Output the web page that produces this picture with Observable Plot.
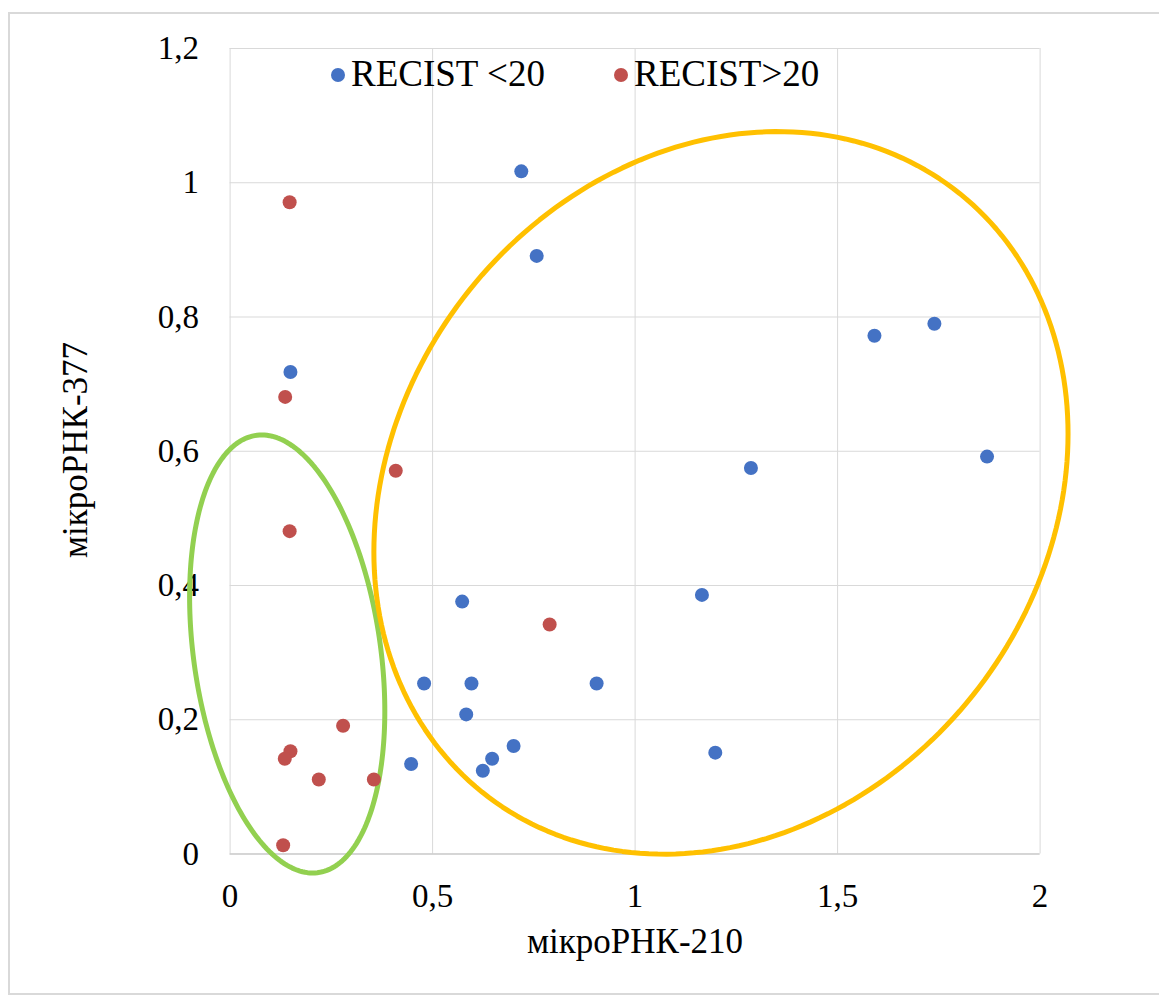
<!DOCTYPE html>
<html>
<head>
<meta charset="utf-8">
<script src="https://cdn.jsdelivr.net/npm/d3@7"></script>
<script src="https://cdn.jsdelivr.net/npm/@observablehq/plot@0.6"></script>
<style>
  html, body { margin: 0; padding: 0; background: #fff; overflow: hidden; }
  body { width: 1159px; height: 999px; position: relative; font-family: "Liberation Serif", "Times New Roman", serif; }
  #frame { position: absolute; left: 8px; top: 12px; width: 1170px; height: 983px; border: 2px solid #d9d9d9; box-sizing: border-box; }
  #chart { position: absolute; left: 0; top: 0; }
  #chart svg text { font-family: "Liberation Serif", "Times New Roman", serif !important; }
  .lg { position: absolute; top: 52px; font-size: 37px; color: #000; white-space: nowrap; line-height: 44px; font-family: "Liberation Serif", serif; }
  .lg .m { display: inline-block; width: 14px; height: 14px; border-radius: 50%; margin-right: 6px; vertical-align: 4px; }
  .title-x { position: absolute; left: 0; width: 1270px; top: 922px; text-align: center; font-size: 35px; color: #000; font-family: "Liberation Serif", serif; }
  .title-y { position: absolute; left: 76px; top: 450px; font-size: 35px; color: #000; transform: translate(-50%, -50%) rotate(-90deg); white-space: nowrap; font-family: "Liberation Serif", serif; }
</style>
</head>
<body>
<div id="frame"></div>
<div id="chart"></div>
<div class="lg" style="left:331px"><span class="m" style="background:#4472C4"></span>RECIST &lt;20</div>
<div class="lg" style="left:614px"><span class="m" style="background:#C0504D"></span>RECIST&gt;20</div>
<div class="title-x">мікроРНК-210</div>
<div class="title-y">мікроРНК-377</div>
<script>
// Series: RECIST < 20 (blue) and RECIST > 20 (red), miR-210 vs miR-377 expression
const lowX  = [0.719, 0.757, 0.149, 1.591, 1.739, 1.286, 1.869, 0.573, 1.165, 0.479, 0.596, 0.905, 0.583, 0.700, 0.647, 0.624, 1.198, 0.447];
const lowY  = [1.017, 0.891, 0.718, 0.772, 0.790, 0.575, 0.592, 0.376, 0.386, 0.254, 0.254, 0.254, 0.208, 0.161, 0.142, 0.124, 0.151, 0.134];
const highX = [0.147, 0.136, 0.409, 0.147, 0.789, 0.279, 0.149, 0.135, 0.219, 0.355, 0.131];
const highY = [0.971, 0.681, 0.571, 0.481, 0.342, 0.191, 0.153, 0.142, 0.111, 0.111, 0.013];

// Axis ticks
const xTicks = [0, 0.5, 1, 1.5, 2];
const yTicks = [0, 0.2, 0.4, 0.6, 0.8, 1, 1.2];

// Highlight ellipses in data units: centre, semi-diameter along x, semi-diameter along y
const ellipseNames = ["cluster A", "cluster B"];
const ellipseCX = [0.141, 1.212];
const ellipseCY = [0.298, 0.538];
const ellipseAX = [0.241, 0.857];
const ellipseAY = [-0.085, 0.088];
const ellipseBY = [0.315, 0.531];
const ellipseColor = ["#92D050", "#FFC000"];

const points = [
  ...lowX.map((x, i) => ({x, y: lowY[i], group: "RECIST <20"})),
  ...highX.map((x, i) => ({x, y: highY[i], group: "RECIST>20"}))
];

function ellipsePoints(k) {
  const pts = [];
  for (let s = 0; s <= 240; s++) {
    const t = (s / 240) * 2 * Math.PI;
    pts.push({
      x: ellipseCX[k] + ellipseAX[k] * Math.cos(t),
      y: ellipseCY[k] + ellipseAY[k] * Math.cos(t) + ellipseBY[k] * Math.sin(t)
    });
  }
  return pts;
}

const comma = d => String(d).replace(".", ",");
const font = "'Liberation Serif', 'Times New Roman', serif";

const chart = Plot.plot({
  width: 1159,
  height: 999,
  marginLeft: 229.6,
  marginRight: 119.4,
  marginTop: 48,
  marginBottom: 145.5,
  style: {fontFamily: font, background: "transparent", overflow: "visible"},
  x: {domain: [0, 2]},
  y: {domain: [0, 1.2]},
  color: {domain: ["RECIST <20", "RECIST>20"], range: ["#4472C4", "#C0504D"]},
  marks: [
    Plot.gridX(xTicks, {stroke: "#d9d9d9", strokeOpacity: 1, strokeWidth: 1}),
    Plot.gridY(yTicks, {stroke: "#d9d9d9", strokeOpacity: 1, strokeWidth: 1}),
    Plot.ruleY([0], {stroke: "#bfbfbf", strokeWidth: 1}),
    Plot.axisX(xTicks, {tickSize: 0, tickPadding: 30, fontSize: 33, fontFamily: font, tickFormat: comma, fill: "#000", label: null}),
    Plot.axisY(yTicks, {tickSize: 0, tickPadding: 31, fontSize: 33, fontFamily: font, tickFormat: comma, fill: "#000", label: null}),
    ...ellipseNames.map((name, k) =>
      Plot.line(ellipsePoints(k), {x: "x", y: "y", stroke: ellipseColor[k], strokeWidth: 5})
    ),
    Plot.dot(points, {x: "x", y: "y", fill: "group", r: 7, stroke: "none"})
  ]
});
document.getElementById("chart").appendChild(chart);
</script>
</body>
</html>
